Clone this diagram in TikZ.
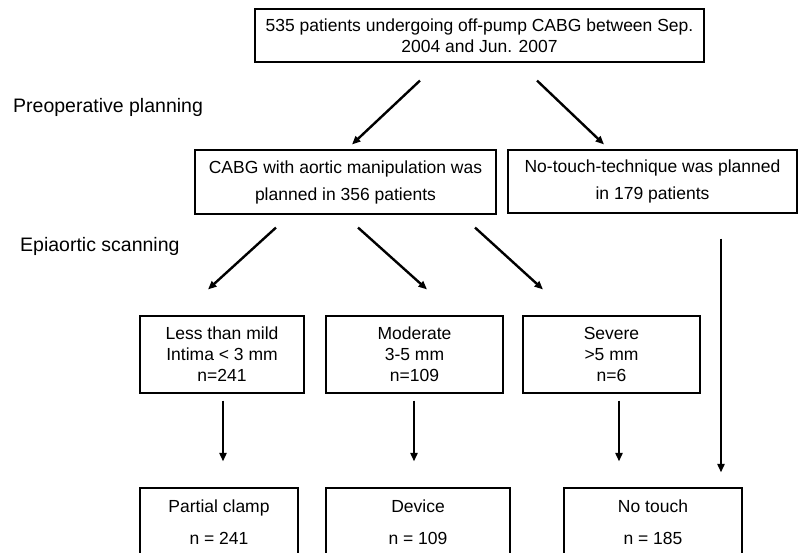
\documentclass[tikz,border=0pt]{standalone}
\usepackage{fontspec}
\setmainfont{Liberation Sans}
\usetikzlibrary{arrows.meta}
\begin{document}
\begin{tikzpicture}[x=1pt,y=-1pt,
 box/.style={draw, line width=1.1pt, inner sep=0pt, align=center, font=\fontsize{17.5}{21}\selectfont},
 lbl/.style={inner sep=0pt, anchor=west, font=\fontsize{19.5}{23}\selectfont},
 arr/.style={line width=2.4pt, -{Triangle[length=8.5pt,width=7pt]}}]
\useasboundingbox (0,0) rectangle (798,552);
\clip (0,0) rectangle (798,552);
% level 1
\node[box, minimum width=449pt, minimum height=53pt, font=\fontsize{17.5}{20.5}\selectfont] (top) at (479.5,35.5)
  {535 patients undergoing off-pump CABG between Sep.\\2004 and Jun. 2007};
\node[lbl] (pre) at (13,107) {Preoperative planning};
\node[lbl] (epi) at (20,246) {Epiaortic scanning};
% level 2
\node[box, minimum width=301pt, minimum height=64pt, font=\fontsize{17.5}{27}\selectfont] (cabg) at (345.5,182)
  {CABG with aortic manipulation was\\planned in 356 patients};
\node[box, minimum width=289pt, minimum height=63pt, font=\fontsize{17.5}{27}\selectfont] (nt) at (652.5,181.5)
  {No-touch-technique was planned\\in 179 patients};
% level 3
\node[box, minimum width=164pt, minimum height=77pt] (less) at (222,354.5)
  {Less than mild\\Intima < 3 mm\\n=241};
\node[box, minimum width=177pt, minimum height=77pt] (mod) at (414.5,354.5)
  {Moderate\\3-5 mm\\n=109};
\node[box, minimum width=177pt, minimum height=77pt] (sev) at (611.5,354.5)
  {Severe\\>5 mm\\n=6};
% level 4
\node[box, minimum width=158pt, minimum height=68pt, font=\fontsize{17.5}{32}\selectfont] (pc) at (219,522)
  {Partial clamp\\n = 241};
\node[box, minimum width=184pt, minimum height=68pt, font=\fontsize{17.5}{32}\selectfont] (dev) at (418,522)
  {Device\\n = 109};
\node[box, minimum width=178pt, minimum height=68pt, font=\fontsize{17.5}{32}\selectfont] (ntf) at (653,522)
  {No touch\\n = 185};
% arrows
\draw[arr] ([shift={(-59.5,18)}]top.south) -- ([shift={(6.5,-5)}]cabg.north);
\draw[arr] ([shift={(57.5,18)}]top.south) -- ([shift={(-48.5,-5)}]nt.north);
\draw[arr] ([shift={(-69.5,13)}]cabg.south) -- ([shift={(-14,-26)}]less.north);
\draw[arr] ([shift={(12.5,13)}]cabg.south) -- ([shift={(12.5,-26)}]mod.north);
\draw[arr] ([shift={(129.5,13)}]cabg.south) -- ([shift={(-68.5,-26)}]sev.north);
\draw[arr] ([shift={(68.5,25)}]nt.south) -- ([shift={(68,-15)}]ntf.north);
\draw[arr] ([shift={(1,7)}]less.south) -- ([shift={(4,-26)}]pc.north);
\draw[arr] ([shift={(-0.5,7)}]mod.south) -- ([shift={(-4,-26)}]dev.north);
\draw[arr] ([shift={(7.5,7)}]sev.south) -- ([shift={(-34,-26)}]ntf.north);
\end{tikzpicture}
\end{document}
